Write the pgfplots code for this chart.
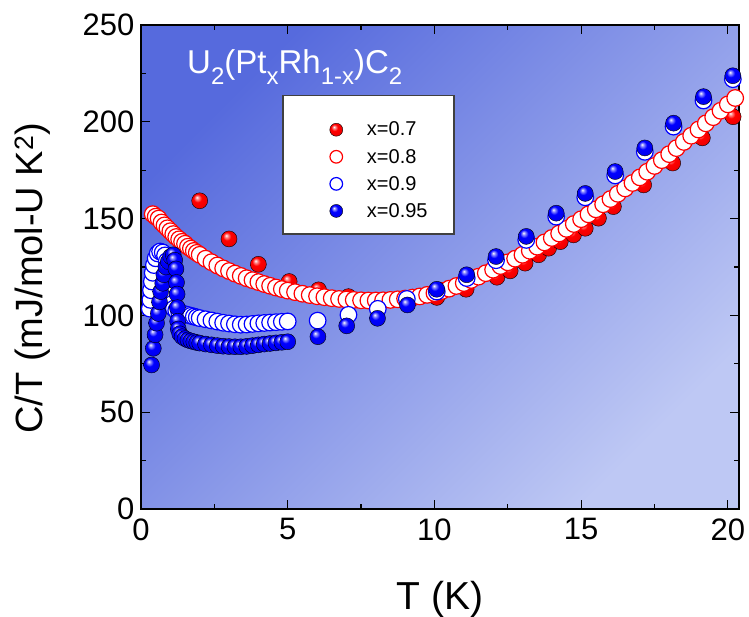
\documentclass[border=0pt]{standalone}
\usepackage{pgfplots}
\pgfplotsset{compat=1.18}
\usepackage{fontspec}
\setmainfont{Liberation Sans}

\definecolor{bgdark}{RGB}{86,106,221}
\definecolor{bglight}{RGB}{190,200,244}

\newcommand{\sub}[1]{\raisebox{-11pt}{\fontsize{24}{24}\selectfont #1}}

% glossy spheres for the filled markers
\makeatletter
\pgfdeclareradialshading[tikz@ball]{ball}{\pgfqpoint{-9bp}{11bp}}{%
  color(0bp)=(tikz@ball!0!white); color(5bp)=(tikz@ball!45!white);
  color(13bp)=(tikz@ball); color(30bp)=(tikz@ball!92!black);
  color(50bp)=(tikz@ball!72!black)}
\makeatother

% legend sample: a single mark of the given radius
\pgfplotsset{onemark legend/.style={legend image code/.code={\draw[##1, mark size=#1] plot coordinates {(0pt,0pt)};}}}

\begin{document}
\begin{tikzpicture}
\path[use as bounding box] (-141pt,-107pt) rectangle (608pt,509pt);
\begin{axis}[
  scale only axis, width=598pt, height=484pt,
  xmin=0, xmax=20.38, ymin=0, ymax=250,
  xtick={0,5,...,20}, ytick={0,50,...,250},
  minor x tick num=1, minor y tick num=1,
  tick align=inside,
  major tick length=9pt, minor tick length=5pt,
  every tick/.style={black, line width=1.2pt},
  axis line style={line width=1.8pt},
  tick label style={font=\fontsize{31}{31}\selectfont},
  /pgf/number format/assume math mode=true,
  xticklabel style={yshift=-6pt},
  yticklabel style={xshift=-3pt},
  xlabel={T (K)},
  ylabel={C/T (mJ/mol-U K\textsuperscript{2})},
  every axis x label/.style={at={([yshift=-90pt]rel axis cs:0.5,0)}, anchor=center,
    font=\fontsize{39}{39}\selectfont},
  every axis y label/.style={at={([xshift=-108pt]rel axis cs:0,0.477)}, anchor=center,
    rotate=90, font=\fontsize{38}{38}\selectfont},
  axis background/.style={top color=bgdark, bottom color=bglight, shading angle=45},
  legend style={at={(rel axis cs:0.315,0.80)}, anchor=north west,
    draw=none, fill=none, inner sep=0pt,
    font=\fontsize{20}{24}\selectfont,
    row sep=11.6pt, column sep=24pt,
    nodes={inner sep=0pt}},
  legend cell align=left,
]

% x = 0.7
\addplot[only marks, mark=ball, mark size=8pt, mark options={ball color=red},
  onemark legend=6.5pt]
  table {
x y
2.0 159.2
3.0 139.5
4.0 126.4
5.05 117.5
6.05 113.2
7.07 109.7
8.05 107.6
9.05 107.4
10.08 109.3
11.08 113.5
12.13 119.7
12.58 123.0
13.09 127.0
13.55 131.3
13.89 134.7
14.29 138.1
14.74 141.6
15.14 145.0
15.59 150.2
16.10 156.2
17.13 167.4
18.12 178.7
19.13 191.7
20.18 202.6
};
\addlegendentry{x=0.7}

% x = 0.8
\addplot[only marks, mark=*, mark size=8.3pt,
  mark options={draw=red, fill=white, line width=1.2pt},
  onemark legend=6.3pt]
  table {
x y
0.40 152.3
0.50 151.0
0.60 150.0
0.70 148.0
0.80 146.5
0.90 145.0
1.00 143.5
1.10 142.0
1.20 140.5
1.30 139.3
1.40 138.0
1.50 137.0
1.60 135.5
1.70 134.5
1.80 133.3
1.90 132.3
2.00 131.3
2.20 129.3
2.40 127.5
2.60 125.8
2.80 124.3
3.00 122.9
3.20 121.6
3.40 120.4
3.60 119.2
3.80 118.2
4.00 117.2
4.20 116.2
4.40 115.3
4.60 114.4
4.80 113.6
5.00 112.8
5.25 112.0
5.50 111.2
5.75 110.5
6.00 109.9
6.25 109.4
6.50 108.9
6.75 108.5
7.00 108.2
7.25 108.0
7.50 107.8
7.75 107.7
8.00 107.7
8.25 107.8
8.50 108.0
8.75 108.3
9.00 108.7
9.25 109.2
9.50 109.8
9.75 110.6
10.00 111.5
10.25 112.6
10.50 113.8
10.75 115.2
11.00 116.7
11.25 118.3
11.50 120.0
11.75 121.8
12.00 123.6
12.25 125.5
12.50 127.4
12.75 129.3
13.00 131.3
13.25 133.4
13.50 135.5
13.75 137.7
14.00 140.0
14.25 142.3
14.50 144.7
14.75 147.2
15.00 149.7
15.25 152.2
15.50 154.8
15.75 157.4
16.00 160.1
16.25 162.8
16.50 165.6
16.75 168.4
17.00 171.3
17.25 174.2
17.50 177.2
17.75 180.2
18.00 183.3
18.25 186.4
18.50 189.6
18.75 192.8
19.00 196.0
19.25 199.2
19.50 202.4
19.75 205.7
20.00 209.0
20.25 212.3
};
\addlegendentry{x=0.8}

% x = 0.9
\addplot[only marks, mark=*, mark size=8.3pt,
  mark options={draw=blue, fill=white, line width=1.2pt},
  onemark legend=6.3pt]
  table {
x y
0.30 103.5
0.32 108.0
0.34 113.0
0.37 117.5
0.40 122.0
0.44 126.0
0.50 129.5
0.57 132.0
0.65 133.0
0.74 132.5
0.82 131.0
0.88 128.0
0.93 122.0
0.97 116.0
1.01 110.5
1.06 106.0
1.12 103.5
1.20 102.5
1.30 101.7
1.40 101.0
1.50 100.6
1.60 100.2
1.70 99.8
1.80 99.4
1.90 99.0
2.00 98.6
2.20 98.0
2.40 97.4
2.60 96.8
2.80 96.2
3.00 95.8
3.20 95.4
3.40 95.2
3.60 95.3
3.80 95.6
4.00 95.9
4.20 96.1
4.40 96.3
4.60 96.5
4.80 96.7
5.00 96.9
6.02 97.3
7.07 100.3
8.07 103.4
9.06 108.5
10.08 112.3
11.10 119.3
12.10 128.5
13.13 139.0
14.15 151.0
15.14 161.0
16.16 172.3
17.17 184.5
18.15 197.5
19.17 211.0
20.17 222.0
};
\addlegendentry{x=0.9}

% x = 0.95
\addplot[only marks, mark=ball, mark size=8pt, mark options={ball color=blue},
  onemark legend=6.5pt]
  table {
x y
0.36 74.4
0.42 83.0
0.48 90.0
0.53 96.0
0.59 101.0
0.63 107.0
0.67 112.3
0.74 116.6
0.78 121.0
0.85 125.0
0.93 127.8
1.01 130.4
1.10 131.3
1.15 128.5
1.19 124.0
1.21 117.0
1.23 111.0
1.24 104.0
1.25 97.0
1.27 93.0
1.32 90.5
1.40 89.0
1.50 88.0
1.60 87.3
1.70 86.8
1.80 86.4
1.90 86.0
2.00 85.7
2.20 85.2
2.40 84.8
2.60 84.4
2.80 84.1
3.00 83.9
3.20 83.8
3.40 83.8
3.60 84.0
3.80 84.4
4.00 84.8
4.20 85.2
4.40 85.5
4.60 85.8
4.80 86.1
5.00 86.4
6.03 89.0
7.01 94.6
8.06 98.5
9.08 105.4
10.08 113.5
11.10 121.0
12.10 130.4
13.13 140.8
14.15 152.8
15.14 163.0
16.16 174.3
17.17 186.5
18.15 199.3
19.17 213.0
20.17 223.8
};
\addlegendentry{x=0.95}

% legend frame
\draw[black!75, line width=1.2pt, fill=white]
  (rel axis cs:0.2375,0.5682) rectangle (rel axis cs:0.5234,0.8539);

% compound name
\node[anchor=base west, text=white, inner sep=0pt, font=\fontsize{33}{33}\selectfont]
  at (rel axis cs:0.077,0.9) {U\sub{2}(Pt\sub{x}Rh\sub{1-x})C\sub{2}};

\end{axis}
\end{tikzpicture}
\end{document}
